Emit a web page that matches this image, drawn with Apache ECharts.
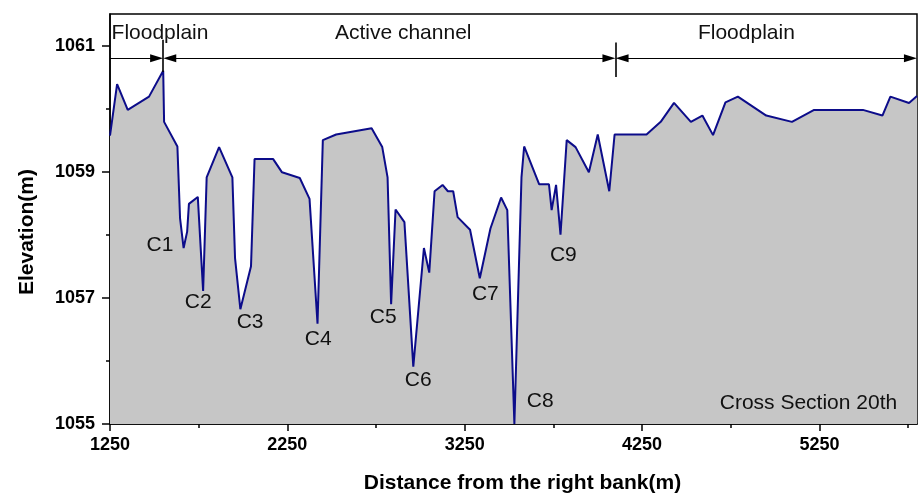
<!DOCTYPE html>
<html>
<head>
<meta charset="utf-8">
<script src="https://cdn.jsdelivr.net/npm/echarts@6/dist/echarts.min.js"></script>
<style>
html,body{margin:0;padding:0;background:#fff;}
#chart{width:919px;height:499px;}
</style>
</head>
<body>
<div id="chart"></div>
<script>
// Distance from the right bank (m)
const distance = [1250, 1290, 1350, 1470, 1550, 1555, 1630, 1645, 1665, 1685,
  1695, 1745, 1775, 1795, 1865, 1940, 1955, 1985, 2045, 2065,
  2170, 2220, 2320, 2375, 2420, 2450, 2525, 2725, 2785, 2815,
  2835, 2860, 2910, 2960, 3020, 3050, 3080, 3125, 3155, 3185,
  3210, 3280, 3335, 3395, 3455, 3490, 3530, 3570, 3585, 3670,
  3725, 3740, 3765, 3790, 3825, 3875, 3950, 4000, 4065, 4095,
  4275, 4355, 4430, 4525, 4590, 4650, 4720, 4790, 4950, 5095,
  5220, 5495, 5605, 5650, 5755, 5800];
// Elevation (m)
const elevation = [1059.57, 1060.39, 1059.98, 1060.19, 1060.6, 1059.79, 1059.40, 1058.26, 1057.79, 1058.05,
  1058.49, 1058.60, 1057.11, 1058.91, 1059.39, 1058.91, 1057.63, 1056.82, 1057.50, 1059.20,
  1059.20, 1058.99, 1058.90, 1058.57, 1056.59, 1059.50, 1059.59, 1059.69, 1059.39, 1058.91,
  1056.90, 1058.40, 1058.20, 1055.91, 1057.79, 1057.40, 1058.69, 1058.79, 1058.69, 1058.69,
  1058.28, 1058.08, 1057.31, 1058.10, 1058.59, 1058.39, 1055.00, 1058.91, 1059.40, 1058.80,
  1058.80, 1058.39, 1058.79, 1058.00, 1059.50, 1059.39, 1058.99, 1059.59, 1058.69, 1059.59,
  1059.59, 1059.79, 1060.09, 1059.79, 1059.89, 1059.58, 1060.10, 1060.19, 1059.89, 1059.79,
  1059.98, 1059.98, 1059.89, 1060.19, 1060.09, 1060.20];

const xMajorTicks = [1250, 2250, 3250, 4250, 5250];
const xMinorTicks = [1750, 2750, 3750, 4750, 5750];
const yMajorTicks = [1055, 1057, 1059, 1061];
const yMinorTicks = [1056, 1058, 1060];

// Channel labels
const channelNames = ['C1', 'C2', 'C3', 'C4', 'C5', 'C6', 'C7', 'C8', 'C9'];
const channelLabelX = [1532, 1747, 2040, 2424, 2790, 2988, 3366, 3676, 3806];
const channelLabelY = [1057.83, 1056.93, 1056.61, 1056.34, 1056.69, 1055.69, 1057.05, 1055.36, 1057.68];

// Zone boundaries
const zoneBounds = [1250, 1550, 4100, 5800];
const zoneNames = ['Floodplain', 'Active channel', 'Floodplain'];
const zoneLabelX = [1532, 2903, 4838];

const FONT = 'Liberation Sans, Arial, Helvetica, sans-serif';
const seriesData = distance.map((d, i) => [d, elevation[i]]);

const arrowY = 1060.8;
const half = 37; // half arrow length in data units
const markLines = [];
markLines.push([{coord: [zoneBounds[0], arrowY], symbol: 'none'}, {coord: [zoneBounds[1] - half, arrowY], symbol: 'triangle'}]);
markLines.push([{coord: [zoneBounds[1] + half, arrowY], symbol: 'triangle'}, {coord: [zoneBounds[2] - half, arrowY], symbol: 'triangle'}]);
markLines.push([{coord: [zoneBounds[2] + half, arrowY], symbol: 'triangle'}, {coord: [zoneBounds[3] - half, arrowY], symbol: 'triangle'}]);
markLines.push([{coord: [zoneBounds[1], 1061.09], symbol: 'none', lineStyle: {width: 1.6}}, {coord: [zoneBounds[1], 1060.58], symbol: 'none'}]);
markLines.push([{coord: [zoneBounds[2], 1061.05], symbol: 'none', lineStyle: {width: 1.6}}, {coord: [zoneBounds[2], 1060.50], symbol: 'none'}]);

const markPoints = [];
channelNames.forEach((n, i) => markPoints.push({name: n, coord: [channelLabelX[i], channelLabelY[i]]}));
zoneNames.forEach((n, i) => markPoints.push({name: n, coord: [zoneLabelX[i], 1061.19]}));
markPoints.push({name: 'Cross Section 20th', coord: [5188, 1055.33]});

const plainNum = v => String(v);

const chart = echarts.init(document.getElementById('chart'), null, {renderer: 'canvas'});
chart.setOption({
  animation: false,
  backgroundColor: '#fff',
  grid: {left: 110, right: 2, top: 14, bottom: 71, show: true, borderColor: '#000', borderWidth: 1.5, backgroundColor: 'transparent'},
  xAxis: [{
    type: 'value', min: 1250, max: 5800, position: 'bottom',
    name: 'Distance from the right bank(m)', nameLocation: 'middle', nameGap: 49,
    nameTextStyle: {fontFamily: FONT, fontSize: 21, fontWeight: 'bold', color: '#000', padding: [0, 0, 0, 18]},
    axisLine: {show: true, lineStyle: {color: '#000', width: 1.5}},
    axisTick: {show: true, length: 7, lineStyle: {color: '#000', width: 1.5}, customValues: xMajorTicks},
    axisLabel: {show: true, customValues: xMajorTicks, formatter: plainNum, margin: 12, fontFamily: FONT, fontSize: 18, fontWeight: 'bold', color: '#000'},
    splitLine: {show: false}
  }, {
    type: 'value', min: 1250, max: 5800, position: 'bottom',
    axisLine: {show: false},
    axisTick: {show: true, length: 4, lineStyle: {color: '#000', width: 1.5}, customValues: xMinorTicks},
    axisLabel: {show: false},
    splitLine: {show: false}
  }],
  yAxis: [{
    type: 'value', min: 1055, max: 1061.5, position: 'left',
    name: 'Elevation(m)', nameLocation: 'middle', nameGap: 72,
    nameTextStyle: {fontFamily: FONT, fontSize: 21, fontWeight: 'bold', color: '#000', padding: [0, 26, 0, 0]},
    axisLine: {show: true, lineStyle: {color: '#000', width: 1.5}},
    axisTick: {show: true, length: 8, lineStyle: {color: '#000', width: 1.5}, customValues: yMajorTicks},
    axisLabel: {show: true, customValues: yMajorTicks, formatter: plainNum, margin: 15, fontFamily: FONT, fontSize: 18, fontWeight: 'bold', color: '#000'},
    splitLine: {show: false}
  }, {
    type: 'value', min: 1055, max: 1061.5, position: 'left',
    axisLine: {show: false},
    axisTick: {show: true, length: 4, lineStyle: {color: '#000', width: 1.5}, customValues: yMinorTicks},
    axisLabel: {show: false},
    splitLine: {show: false}
  }],
  series: [{
    type: 'line',
    xAxisIndex: 0, yAxisIndex: 0,
    data: seriesData,
    showSymbol: false,
    symbol: 'none',
    lineStyle: {color: '#0c0c8a', width: 2},
    areaStyle: {color: '#c6c6c6', opacity: 1, origin: 'start'},
    z: 2,
    markLine: {
      silent: true,
      animation: false,
      symbolSize: [8, 13],
      label: {show: false},
      lineStyle: {color: '#000', width: 1.1, type: 'solid'},
      emphasis: {disabled: true},
      data: markLines
    },
    markPoint: {
      silent: true,
      animation: false,
      symbol: 'circle',
      symbolSize: 1,
      itemStyle: {color: 'rgba(0,0,0,0)'},
      label: {show: true, position: 'inside', formatter: '{b}', fontFamily: FONT, fontSize: 21, color: '#111'},
      emphasis: {disabled: true},
      data: markPoints
    }
  }]
});
</script>
</body>
</html>
